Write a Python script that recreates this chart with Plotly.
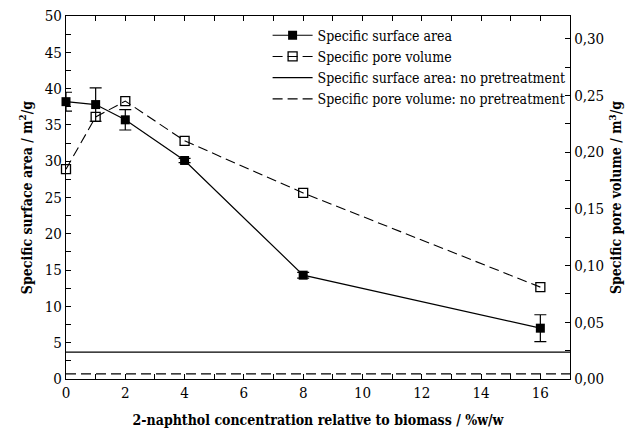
import plotly.graph_objects as go

conc = [0, 1, 2, 4, 8, 16]
surface_area = [38.2, 37.8, 35.7, 30.1, 14.3, 7.0]
surface_area_err = [1.3, 2.3, 1.4, 0.3, 0.4, 1.85]
pore_volume = [0.185, 0.231, 0.245, 0.210, 0.164, 0.081]
sa_no_pretreatment = 3.7
pv_no_pretreatment = 0.0045

x_range = [0, 17]
y_range = [0, 50]
y2_range = [0, 0.32]

FONT = "DejaVu Serif Condensed"

fig = go.Figure()

fig.add_trace(go.Scatter(
    x=conc, y=surface_area, name="Specific surface area",
    mode="lines+markers",
    line=dict(color="black", width=1.2),
    marker=dict(symbol="square", size=9, color="black"),
    error_y=dict(type="data", array=surface_area_err, visible=True,
                 color="black", thickness=1.2, width=6),
    cliponaxis=False,
))
fig.add_trace(go.Scatter(
    x=conc, y=pore_volume, name="Specific pore volume", yaxis="y2",
    mode="lines+markers",
    line=dict(color="black", width=1.1, dash="10px,5px"),
    marker=dict(symbol="square-open", size=9, color="black",
                line=dict(width=1.3, color="black")),
    cliponaxis=False,
))
fig.add_trace(go.Scatter(
    x=x_range, y=[sa_no_pretreatment] * 2,
    name="Specific surface area: no pretreatment",
    mode="lines", line=dict(color="black", width=1.2),
))
fig.add_trace(go.Scatter(
    x=x_range, y=[pv_no_pretreatment] * 2, yaxis="y2",
    name="Specific pore volume: no pretreatment",
    mode="lines", line=dict(color="black", width=1.2, dash="10px,5px"),
))

axis_common = dict(
    showgrid=False, zeroline=False, showline=True, linecolor="black",
    linewidth=1.3, ticks="inside", ticklen=5, tickcolor="black",
    tickwidth=1.1, tickfont=dict(family=FONT, size=15, color="black"),
    ticklabeloverflow="allow",
)

fig.update_layout(
    width=627, height=427,
    margin=dict(l=58, r=65, t=8, b=56, autoexpand=False),
    paper_bgcolor="white", plot_bgcolor="white",
    separators=", ",
    showlegend=True,
    legend=dict(x=0.40, y=0.99, xanchor="left", yanchor="top",
                bgcolor="rgba(0,0,0,0)", borderwidth=0,
                font=dict(family=FONT, size=14, color="black"),
                tracegroupgap=0, itemwidth=40),
    xaxis=dict(
        range=x_range, dtick=2, mirror="ticks",
        minor=dict(dtick=1, ticks="inside", ticklen=5, tickcolor="black",
                   tickwidth=1.1),
        title=dict(text="<b>2-naphthol concentration relative to biomass / %w/w</b>",
                   font=dict(family=FONT, size=14, color="black"), standoff=14),
        **axis_common,
    ),
    yaxis=dict(
        range=y_range, dtick=5,
        minor=dict(dtick=2.5, ticks="inside", ticklen=5, tickcolor="black",
                   tickwidth=1.1),
        title=dict(text="<b>Specific surface area / m<sup>2</sup>/g</b>",
                   font=dict(family=FONT, size=14, color="black"), standoff=8),
        **axis_common,
    ),
    yaxis2=dict(
        range=y2_range, dtick=0.05, tickformat=".2f", overlaying="y",
        side="right",
        minor=dict(dtick=0.025, ticks="inside", ticklen=5, tickcolor="black",
                   tickwidth=1.1),
        title=dict(text="<b>Specific pore volume / m<sup>3</sup>/g</b>",
                   font=dict(family=FONT, size=14, color="black"), standoff=8),
        **axis_common,
    ),
)

fig.write_html("out.html")
